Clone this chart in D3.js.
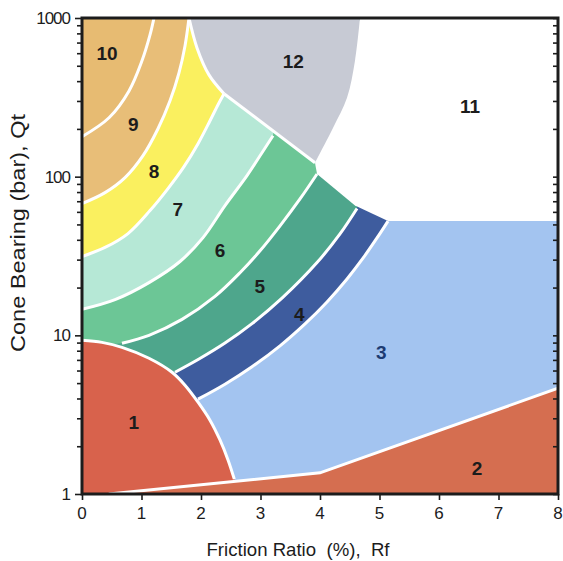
<!DOCTYPE html>
<html>
<head>
<meta charset="utf-8">
<script src="https://cdn.jsdelivr.net/npm/d3@7"></script>
<style>
  html, body { margin: 0; padding: 0; background: #fff; overflow: hidden; }
  svg { display: block; font-family: "Liberation Sans", Arial, sans-serif; }
</style>
</head>
<body>
<svg></svg>
<script>
// zone labels, colours and label positions [Rf %, qt bar]
const zones = ["1", "2", "3", "4", "5", "6", "7", "8", "9", "10", "11", "12"];
const zoneColors = ["#d8624c", "#d56e50", "#a3c4f0", "#3e5c9e", "#4ea68c", "#6cc696",
  "#b6e8d6", "#faf05f", "#e8be78", "#e7bb72", "#ffffff", "#c7cad4"];
const labelRf = [0.87, 6.64, 5.03, 3.65, 2.99, 2.32, 1.61, 1.21, 0.86, 0.42, 6.52, 3.55];
const labelQt = [2.84, 1.46, 7.9, 13.7, 20.6, 34.3, 63, 109, 215, 603, 280, 537];

// zone boundaries [Rf %, qt bar]
const b10_9 = [[0, 178.6], [0.454, 235], [0.79, 347], [1.008, 537], [1.143, 782], [1.21, 1000]];
const b9_8 = [[0, 67.6], [0.387, 79.3], [0.723, 98.6], [1.025, 135.6], [1.277, 200.4],
  [1.479, 300.6], [1.63, 451], [1.731, 667], [1.798, 1000]];
const b8_7 = [[0, 31.4], [0.387, 35.8], [0.773, 43.8], [1.143, 61.1], [1.445, 84.1],
  [1.714, 115.6], [1.95, 161.4], [2.151, 225], [2.286, 284], [2.387, 333]];
const b7_6 = [[0, 14.6], [0.555, 16.8], [1.126, 21.5], [1.647, 29.2], [2.034, 41.3],
  [2.403, 65.7], [2.773, 101.5], [3.025, 141.5], [3.21, 181]];
const b6_5 = [[0.672, 8.91], [1.126, 10.0], [1.681, 12.6], [2.235, 17.6], [2.655, 24.8],
  [2.992, 34.1], [3.328, 49.0], [3.664, 72.4], [3.95, 104]];
const b5_4 = [[1.563, 5.85], [1.966, 7.09], [2.403, 8.94], [2.857, 11.85], [3.361, 17.14],
  [3.95, 28.74], [4.336, 43.55], [4.622, 63.0]];
const b4_3 = [[1.95, 3.96], [2.403, 4.92], [2.857, 6.34], [3.328, 8.59], [3.748, 11.81],
  [4.118, 16.24], [4.454, 22.67], [4.723, 30.63], [4.958, 41.1], [5.143, 52.5]];
const zone1Edge = [[0, 9.3], [0.336, 9.03], [0.672, 8.4], [1.126, 7.17], [1.513, 5.85],
  [1.731, 4.85], [1.95, 3.79], [2.151, 2.92], [2.319, 2.19], [2.454, 1.64], [2.56, 1.24]];
const zone2Edge = [[0.45, 1], [4.0, 1.36], [8, 4.64]];
const grayLeft = [[1.798, 1000], [1.933, 648], [2.134, 438], [2.387, 333]];
const grayRight = [[4.672, 1000], [4.588, 537], [4.454, 314], [4.218, 203], [3.916, 122.5]];
const zone11Edge = [[3.916, 122.5], [3.95, 104], [4.588, 65.7], [5.143, 52.5], [8, 52.5]];

const xTicks = [0, 1, 2, 3, 4, 5, 6, 7, 8];
const yMajor = [1, 10, 100, 1000];

const width = 563;
const height = 561;
const margin = { top: 18, right: 5, bottom: 67, left: 82 };
const innerWidth = width - margin.left - margin.right;
const innerHeight = height - margin.top - margin.bottom;

const svg = d3.select("svg").attr("width", width).attr("height", height);

// scales work in page pixels directly
const x = d3.scaleLinear().domain([0, 8]).range([margin.left, margin.left + innerWidth]);
const y = d3.scaleLog().domain([1, 1000]).range([margin.top + innerHeight, margin.top]);

svg.append("defs").append("clipPath").attr("id", "plot")
  .append("rect")
  .attr("x", margin.left).attr("y", margin.top)
  .attr("width", innerWidth).attr("height", innerHeight);

const curve = d3.line().x((d) => x(d[0])).y((d) => y(d[1])).curve(d3.curveCatmullRom.alpha(0.5));
const straight = d3.line().x((d) => x(d[0])).y((d) => y(d[1]));
const pt = (d) => `${x(d[0])},${y(d[1])}`;

// area to the lower right of a boundary
function band(edge, pre, post) {
  let s = curve(edge);
  if (pre.length) s = "M" + pre.map(pt).join("L") + "L" + s.slice(1);
  post.concat([[8, 1000], [8, 1], [0, 1]]).forEach((d) => (s += "L" + pt(d)));
  return s + "Z";
}

const zoneLayer = svg.append("g").attr("clip-path", "url(#plot)");

zoneLayer.append("rect")
  .attr("x", margin.left).attr("y", margin.top)
  .attr("width", innerWidth).attr("height", innerHeight)
  .attr("fill", zoneColors[9]);

const bands = [
  { d: band(b10_9, [], []), c: zoneColors[8] },
  { d: band(b9_8, [], []), c: zoneColors[7] },
  { d: band(b8_7, [], [[2.6, 1000]]), c: zoneColors[6] },
  { d: band(b7_6, [], [[3.4, 1000]]), c: zoneColors[5] },
  { d: band(b6_5, [[0, 8.5]], [[4.4, 1000]]), c: zoneColors[4] },
  { d: band(b5_4, [[0, 5]], [[5.0, 1000]]), c: zoneColors[3] },
  { d: band(b4_3, [[0, 2.5]], [[5.5, 1000]]), c: zoneColors[2] },
  { d: "M" + pt([0, 1]) + "L" + curve(zone1Edge).slice(1) + "L" + pt([2.65, 1]) + "Z", c: zoneColors[0] },
  { d: straight(zone2Edge.concat([[8, 1]])) + "Z", c: zoneColors[1] },
  { d: straight(zone11Edge.concat([[8, 1000], [4.672, 1000]])) + "Z", c: zoneColors[10] },
  {
    d: curve(grayLeft) + "L" + pt(grayRight[4]) + "L" + curve(grayRight.slice().reverse()).slice(1) + "Z",
    c: zoneColors[11]
  }
];

zoneLayer.selectAll("path.zone")
  .data(bands)
  .enter()
  .append("path")
  .attr("class", "zone")
  .attr("d", (d) => d.d)
  .attr("fill", (d) => d.c);

// white dividing lines
const edges = [b10_9, b9_8, b8_7, b7_6, b6_5, b5_4, b4_3, zone1Edge, grayLeft];
zoneLayer.selectAll("path.edge")
  .data(edges)
  .enter()
  .append("path")
  .attr("d", curve)
  .attr("fill", "none")
  .attr("stroke", "#fff")
  .attr("stroke-width", 3);

zoneLayer.append("path")
  .attr("d", straight(zone2Edge))
  .attr("fill", "none").attr("stroke", "#fff").attr("stroke-width", 3);
zoneLayer.append("path")
  .attr("d", straight([grayLeft[3], grayRight[4]]))
  .attr("fill", "none").attr("stroke", "#fff").attr("stroke-width", 3);

// zone numbers
svg.selectAll("text.zone")
  .data(zones)
  .enter()
  .append("text")
  .attr("class", "zone")
  .attr("x", (d, i) => x(labelRf[i]))
  .attr("y", (d, i) => y(labelQt[i]) + 7)
  .attr("text-anchor", "middle")
  .attr("font-size", 19)
  .attr("font-weight", "bold")
  .attr("fill", (d) => (d === "3" ? "#1d3b72" : "#1c1c1c"))
  .text((d) => d);

// axes: tick marks from d3 axes, labels placed from the same scales
const yMinor = [];
[1, 10, 100].forEach((p) => { for (let k = 2; k <= 9; k++) yMinor.push(p * k); });

function styleAxis(sel) {
  sel.select(".domain").remove();
  sel.selectAll("text").remove();
  sel.selectAll("line").attr("stroke", "#1c1c1c").attr("stroke-width", 1.6);
}

svg.append("g")
  .attr("transform", `translate(${margin.left},0)`)
  .call(d3.axisLeft(y).tickValues(yMinor).tickSize(5))
  .call(styleAxis);
svg.append("g")
  .attr("transform", `translate(${margin.left},0)`)
  .call(d3.axisLeft(y).tickValues(yMajor).tickSize(7))
  .call(styleAxis);
svg.append("g")
  .attr("transform", `translate(${margin.left + innerWidth},0)`)
  .call(d3.axisLeft(y).tickValues(yMinor.concat(yMajor)).tickSize(5))
  .call(styleAxis);
svg.append("g")
  .attr("transform", `translate(0,${margin.top + innerHeight})`)
  .call(d3.axisBottom(x).tickValues(xTicks).tickSize(6))
  .call(styleAxis);

svg.selectAll("text.ytick")
  .data(yMajor)
  .enter()
  .append("text")
  .attr("class", "ytick")
  .attr("x", margin.left - 12)
  .attr("y", (d) => y(d) + 6)
  .attr("text-anchor", "end")
  .attr("font-size", 17)
  .attr("letter-spacing", -1)
  .attr("fill", "#1c1c1c")
  .text((d) => d);

svg.selectAll("text.xtick")
  .data(xTicks)
  .enter()
  .append("text")
  .attr("class", "xtick")
  .attr("x", (d) => x(d))
  .attr("y", margin.top + innerHeight + 25)
  .attr("text-anchor", "middle")
  .attr("font-size", 17)
  .attr("fill", "#1c1c1c")
  .text((d) => d);

// frame
svg.append("rect")
  .attr("x", margin.left).attr("y", margin.top)
  .attr("width", innerWidth)
  .attr("height", innerHeight)
  .attr("fill", "none")
  .attr("stroke", "#1c1c1c")
  .attr("stroke-width", 3);

// axis titles
svg.append("text")
  .attr("x", x(4) - 22)
  .attr("y", 556)
  .attr("text-anchor", "middle")
  .attr("font-size", 19)
  .attr("fill", "#1c1c1c")
  .attr("xml:space", "preserve")
  .attr("textLength", 183)
  .attr("lengthAdjust", "spacingAndGlyphs")
  .text("Friction Ratio  (%),  Rf");

svg.append("text")
  .attr("transform", "translate(25,233) rotate(-90)")
  .attr("text-anchor", "middle")
  .attr("font-size", 21)
  .attr("fill", "#1c1c1c")
  .attr("textLength", 238)
  .attr("lengthAdjust", "spacingAndGlyphs")
  .text("Cone Bearing (bar), Qt");
</script>
</body>
</html>
